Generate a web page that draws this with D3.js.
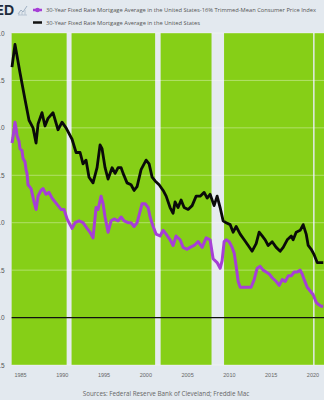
<!DOCTYPE html>
<html>
<head>
<meta charset="utf-8">
<script src="https://cdn.jsdelivr.net/npm/d3@7"></script>
<style>
  html, body { margin: 0; padding: 0; background: #e3e9ef; overflow: hidden; }
  svg { display: block; font-family: 'Open Sans', 'Noto Sans', sans-serif; }
</style>
</head>
<body>
<div id="chart"></div>
<script>
// 30-year fixed mortgage rate (black)
const mortgageDates = [1984.04, 1984.40, 1984.64, 1985.00, 1985.60, 1986.08, 1986.56, 1986.92, 1987.16, 1987.63,
  1987.99, 1988.35, 1988.95, 1989.55, 1990.03, 1990.51, 1991.23, 1991.71, 1992.19, 1992.54,
  1992.90, 1993.26, 1993.74, 1994.22, 1994.58, 1994.82, 1995.18, 1995.54, 1996.02, 1996.38,
  1996.74, 1997.10, 1997.34, 1997.81, 1998.29, 1998.65, 1999.01, 1999.49, 2000.09, 2000.45,
  2000.81, 2001.17, 2001.65, 2002.13, 2002.49, 2002.96, 2003.32, 2003.56, 2003.92, 2004.28,
  2004.64, 2005.12, 2005.60, 2006.08, 2006.56, 2007.04, 2007.40, 2007.75, 2008.23, 2008.59,
  2008.95, 2009.31, 2009.67, 2010.15, 2010.51, 2010.87, 2011.35, 2011.83, 2012.31, 2012.78,
  2013.26, 2013.62, 2013.98, 2014.34, 2014.70, 2015.18, 2015.66, 2016.14, 2016.50, 2016.98,
  2017.46, 2017.69, 2018.05, 2018.53, 2018.89, 2019.25, 2019.49, 2019.85, 2020.21, 2020.57,
  2020.93, 2021.29];
const mortgageRate = [13.2, 14.4, 13.8, 12.9, 11.5, 10.4, 10.0, 9.2, 10.2, 10.8,
  10.1, 10.5, 10.8, 9.9, 10.3, 10.0, 9.4, 8.7, 8.7, 8.1,
  8.3, 7.4, 7.1, 7.9, 9.1, 8.9, 7.9, 7.3, 7.9, 7.6,
  7.9, 7.9, 7.6, 7.1, 7.0, 6.7, 6.9, 7.8, 8.3, 8.1,
  7.4, 7.2, 7.0, 6.7, 6.4, 5.8, 5.5, 6.1, 5.8, 6.2,
  5.8, 5.7, 5.9, 6.4, 6.4, 6.6, 6.3, 6.5, 5.9, 6.4,
  5.8, 5.1, 5.0, 4.9, 4.5, 4.8, 4.4, 4.1, 3.8, 3.5,
  3.9, 4.5, 4.3, 4.1, 3.8, 4.0, 3.7, 3.5, 3.7, 4.1,
  4.3, 4.1, 4.5, 4.6, 4.9, 4.4, 3.8, 3.6, 3.3, 2.9,
  2.9, 2.9];

// mortgage rate minus 16% trimmed-mean CPI (purple)
const realDates = [1984.04, 1984.16, 1984.40, 1984.52, 1984.64, 1984.88, 1985.00, 1985.24, 1985.36, 1985.60,
  1985.72, 1985.84, 1985.96, 1986.32, 1986.68, 1986.92, 1987.16, 1987.51, 1987.75, 1988.11,
  1988.47, 1988.83, 1989.19, 1989.55, 1989.91, 1990.27, 1990.63, 1990.99, 1991.23, 1991.59,
  1992.07, 1992.54, 1993.02, 1993.38, 1993.74, 1994.10, 1994.34, 1994.70, 1994.94, 1995.18,
  1995.54, 1995.90, 1996.26, 1996.74, 1997.10, 1997.46, 1997.93, 1998.29, 1998.65, 1999.01,
  1999.37, 1999.61, 1999.97, 2000.33, 2000.57, 2000.93, 2001.29, 2001.77, 2002.13, 2002.49,
  2002.96, 2003.32, 2003.68, 2004.16, 2004.52, 2005.00, 2005.36, 2005.84, 2006.32, 2006.80,
  2007.28, 2007.75, 2008.11, 2008.59, 2008.95, 2009.19, 2009.43, 2009.67, 2010.03, 2010.39,
  2010.63, 2010.87, 2011.11, 2011.35, 2011.83, 2012.31, 2012.66, 2013.02, 2013.38, 2013.74,
  2014.10, 2014.46, 2014.82, 2015.18, 2015.66, 2016.02, 2016.38, 2016.74, 2017.10, 2017.46,
  2017.81, 2018.17, 2018.53, 2018.77, 2019.01, 2019.37, 2019.73, 2020.09, 2020.45, 2020.69,
  2021.05, 2021.29];
const realRate = [9.2, 9.5, 10.3, 10.0, 9.6, 9.3, 8.9, 8.8, 8.4, 8.2,
  7.8, 7.6, 7.0, 6.8, 6.1, 5.7, 6.4, 6.7, 6.8, 6.5,
  6.6, 6.3, 6.1, 5.9, 5.7, 5.7, 5.2, 4.9, 4.7, 5.0,
  5.1, 5.0, 4.7, 4.5, 4.2, 5.8, 5.7, 6.4, 6.0, 5.3,
  4.5, 5.1, 5.2, 5.1, 5.3, 5.1, 5.0, 5.0, 4.8, 5.0,
  5.6, 6.0, 6.0, 5.8, 5.3, 4.8, 4.4, 4.3, 4.6, 4.4,
  4.1, 3.8, 4.3, 4.1, 3.7, 3.6, 3.7, 3.8, 4.0, 3.7,
  4.2, 4.1, 3.1, 2.9, 2.6, 3.0, 4.0, 4.1, 4.0, 3.7,
  3.4, 2.7, 1.9, 1.6, 1.6, 1.6, 1.6, 2.0, 2.6, 2.7,
  2.5, 2.4, 2.3, 2.1, 1.9, 1.7, 2.0, 1.9, 2.2, 2.2,
  2.4, 2.4, 2.5, 2.3, 2.0, 1.6, 1.4, 1.2, 0.8, 0.7,
  0.6, 0.6];

// NBER recessions
const recessionStart = [1990.58, 2001.17, 2007.92, 2020.08];
const recessionEnd = [1991.17, 2001.83, 2009.42, 2020.25];

const yTicks = [-2.5, 0, 2.5, 5, 7.5, 10, 12.5, 15];
const xTicks = [1985, 1990, 1995, 2000, 2005, 2010, 2015, 2020];

const legendLabels = [
  '30-Year Fixed Rate Mortgage Average in the United States-16% Trimmed-Mean Consumer Price Index',
  '30-Year Fixed Rate Mortgage Average in the United States'
];
const sourceText = 'Sources: Federal Reserve Bank of Cleveland; Freddie Mac';

const width = 324;
const height = 400;
const plot = { left: 11.65, right: 325, top: 33, bottom: 365 };

const svg = d3.select('#chart')
  .append('svg')
  .attr('width', width)
  .attr('height', height)
  .style('background-color', '#e3e9ef');

const x = d3.scaleLinear().domain([1984, 2021.5]).range([plot.left, plot.right]);
const y = d3.scaleLinear().domain([-2.5, 15]).range([plot.bottom, plot.top]);

// plot background
svg.append('rect')
  .attr('x', plot.left)
  .attr('y', plot.top)
  .attr('width', plot.right - plot.left)
  .attr('height', plot.bottom - plot.top)
  .attr('fill', '#86cf17');

svg.selectAll('.recession')
  .data(recessionStart)
  .enter()
  .append('rect')
  .attr('class', 'recession')
  .attr('x', (d) => x(d))
  .attr('width', (d, i) => x(recessionEnd[i]) - x(d))
  .attr('y', plot.top)
  .attr('height', plot.bottom - plot.top)
  .attr('fill', '#e6ebef');

// gridlines
svg.selectAll('.grid')
  .data(yTicks.filter((t) => t !== 0))
  .enter()
  .append('line')
  .attr('class', 'grid')
  .attr('x1', plot.left)
  .attr('x2', plot.right)
  .attr('y1', (d) => y(d))
  .attr('y2', (d) => y(d))
  .attr('stroke', '#ffffff')
  .attr('stroke-opacity', 0.45)
  .attr('stroke-width', 0.8);

svg.append('line')
  .attr('x1', plot.left)
  .attr('x2', plot.right)
  .attr('y1', y(0))
  .attr('y2', y(0))
  .attr('stroke', '#111')
  .attr('stroke-width', 1.2);

// labels run off the left edge, as in the cropped original
const yAxis = svg.append('g')
  .attr('transform', `translate(${plot.left - 4},0)`)
  .call(d3.axisLeft(y).tickValues(yTicks).tickSize(0).tickFormat(d3.format('.1f')));
yAxis.select('.domain').remove();
yAxis.selectAll('text')
  .attr('fill', '#555')
  .style('font-size', '6.5px');

const xAxis = svg.append('g')
  .attr('transform', `translate(0,${plot.bottom + 5})`)
  .call(d3.axisBottom(x).tickValues(xTicks).tickSize(0).tickFormat(d3.format('d')));
xAxis.select('.domain').remove();
xAxis.selectAll('text')
  .attr('fill', '#666')
  .style('font-size', '5.5px');

const line = d3.line()
  .x((d) => x(d[0]))
  .y((d) => y(d[1]));

svg.append('path')
  .datum(realDates.map((d, i) => [d, realRate[i]]))
  .attr('d', line)
  .attr('fill', 'none')
  .attr('stroke', '#a63fd6')
  .attr('stroke-width', 3)
  .attr('stroke-linejoin', 'round');

svg.append('path')
  .datum(mortgageDates.map((d, i) => [d, mortgageRate[i]]))
  .attr('d', line)
  .attr('fill', 'none')
  .attr('stroke', '#0a0a0a')
  .attr('stroke-width', 2.8)
  .attr('stroke-linejoin', 'round');

// legend
const legendColors = ['#a63fd6', '#111'];
const legendWidths = [270, 154];
const legend = svg.selectAll('.legend')
  .data(legendLabels)
  .enter()
  .append('g')
  .attr('class', 'legend')
  .attr('transform', (d, i) => `translate(33,${10 + i * 12.5})`);

legend.append('line')
  .attr('x1', 0)
  .attr('x2', 9)
  .attr('stroke', (d, i) => legendColors[i])
  .attr('stroke-width', 2.5);

legend.filter((d, i) => i === 0)
  .append('circle')
  .attr('cx', 4.5)
  .attr('r', 2.3)
  .attr('fill', '#a63fd6');

legend.append('text')
  .attr('x', 13)
  .attr('y', 2)
  .attr('textLength', (d, i) => legendWidths[i])
  .attr('lengthAdjust', 'spacingAndGlyphs')
  .attr('fill', '#555')
  .style('font-size', '5.5px')
  .text((d) => d);

// FRED logo, cut at the left edge
svg.append('text')
  .attr('x', 14)
  .attr('y', 15)
  .attr('text-anchor', 'end')
  .attr('fill', '#1e2b3c')
  .style('font-size', '14px')
  .style('font-weight', 'bold')
  .style('font-family', 'Arial, Liberation Sans, sans-serif')
  .text('FRED');

svg.append('path')
  .attr('d', 'M18,14 L21,10 L23,12 L27,6')
  .attr('fill', 'none')
  .attr('stroke', '#9fb0c2')
  .attr('stroke-width', 1);
svg.append('path')
  .attr('d', 'M18,15 L27,15 M19,15 L19,13 M22,15 L22,12 M25,15 L25,10')
  .attr('fill', 'none')
  .attr('stroke', '#b7c4d2')
  .attr('stroke-width', 1);

svg.append('text')
  .attr('x', 166)
  .attr('y', 396)
  .attr('text-anchor', 'middle')
  .attr('fill', '#666')
  .style('font-size', '6.3px')
  .text(sourceText);
</script>
</body>
</html>
